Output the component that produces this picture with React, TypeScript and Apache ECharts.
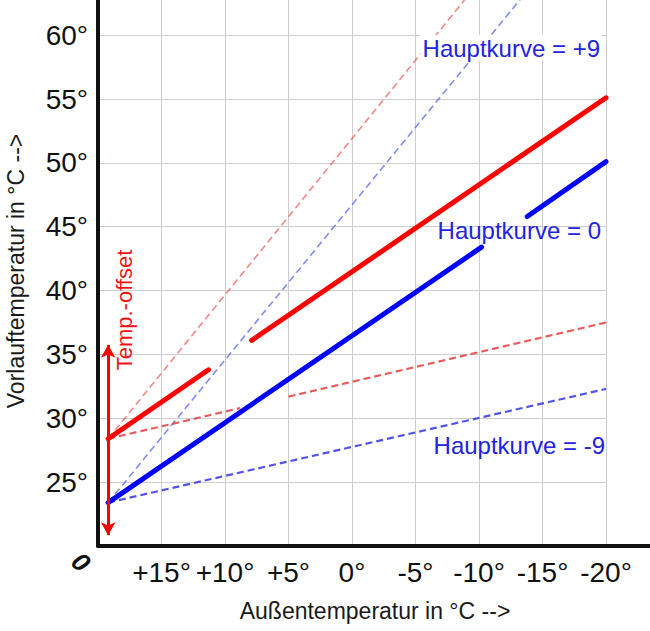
import React, { useEffect, useRef } from "react";
import * as echarts from "echarts";

// Axis ranges (x = Außentemperatur, inverted; y = Vorlauftemperatur)
const X_MIN = -20;
const X_MAX = 20;
const Y_MIN = 20;
const Y_MAX = 65;
const TICK_STEP = 5;

// Hauptkurve = 0 (blue, thick), broken where its label sits
const blueMainA = [[19.2, 23.4], [-10.2, 43.4]];
const blueMainB = [[-13.8, 45.8], [-20, 50.1]];
// Same curve shifted by the temp-offset (red, thick)
const redMainA = [[19.2, 28.4], [11.3, 33.8]];
const redMainB = [[7.9, 36.1], [-20, 55.1]];
// Hauptkurve = +9 (steep dashed)
const blueSteep = [[19.2, 23.4], [-20, 71.0]];
const redSteep = [[19.2, 28.4], [-20, 76.4]];
// Hauptkurve = -9 (flat dashed)
const blueFlat = [[19.2, 23.4], [-20, 32.3]];
const redFlatA = [[19.2, 28.4], [8.8, 30.8]];
const redFlatB = [[5.0, 31.7], [-20, 37.5]];
// Temp.-offset double arrow
const offsetArrow = [[19.2, 20.85], [19.2, 35.75]];

// Texts
const curveLabels = ["Hauptkurve = +9", "Hauptkurve = 0", "Hauptkurve = -9"];
const offsetLabel = "Temp.-offset";
const xTitle = "Außentemperatur in °C -->";
const yTitle = "Vorlauftemperatur in °C -->";
const originLabel = "0";

const FONT = "Liberation Sans, Arial, Helvetica, sans-serif";
const BLUE = "#0000ff";
const RED = "#ff0000";
const LABEL_BLUE = "#2323e0";

function lineSeries(data: number[][], color: string, width: number, dashed: boolean, z: number) {
  return {
    type: "line",
    data,
    symbol: "none",
    silent: true,
    z,
    lineStyle: {
      color,
      width,
      type: dashed ? [7, 4] : "solid",
      cap: dashed ? "butt" : "round",
    },
  };
}

export default function App() {
  const ref = useRef<HTMLDivElement>(null);

  useEffect(() => {
    const chart = echarts.init(ref.current!, null, { renderer: "svg" });
    const option: any = {
      animation: false,
      backgroundColor: "#fff",
      grid: {
        left: 98,
        right: 44,
        top: -28.65,
        bottom: 85,
        containLabel: false,
        outerBoundsMode: "none",
      },
      xAxis: {
        type: "value",
        min: X_MIN,
        max: X_MAX,
        interval: TICK_STEP,
        inverse: true,
        axisLine: { show: true, onZero: false, lineStyle: { color: "#111", width: 4 } },
        axisTick: { show: false },
        axisLabel: {
          fontSize: 28,
          fontFamily: FONT,
          color: "#111",
          margin: 12,
          formatter: (v: number) => (v === X_MAX ? "" : (v > 0 ? "+" : "") + v + "°"),
        },
        splitLine: { show: true, lineStyle: { color: "#cdcdcd", width: 1 } },
      },
      yAxis: {
        type: "value",
        min: Y_MIN,
        max: Y_MAX,
        interval: TICK_STEP,
        axisLine: { show: true, onZero: false, lineStyle: { color: "#111", width: 4 } },
        axisTick: { show: false },
        axisLabel: {
          fontSize: 28,
          fontFamily: FONT,
          color: "#111",
          margin: 10,
          formatter: (v: number) => (v === Y_MIN || v === Y_MAX ? "" : v + "°"),
        },
        splitLine: { show: true, lineStyle: { color: "#cdcdcd", width: 1 } },
      },
      series: [
        lineSeries(redSteep, "rgba(238,70,70,0.65)", 1.6, true, 2),
        lineSeries(blueSteep, "rgba(60,80,240,0.65)", 1.6, true, 2),
        lineSeries(redFlatA, "rgba(230,50,50,0.8)", 2.2, true, 2),
        lineSeries(redFlatB, "rgba(230,50,50,0.8)", 2.2, true, 2),
        lineSeries(blueFlat, "rgba(40,40,230,0.8)", 2.2, true, 2),
        lineSeries(blueMainA, BLUE, 5, false, 3),
        lineSeries(blueMainB, BLUE, 5, false, 3),
        lineSeries(redMainA, RED, 5, false, 3),
        lineSeries(redMainB, RED, 5, false, 3),
        {
          type: "line",
          data: [],
          silent: true,
          z: 4,
          markLine: {
            silent: true,
            animation: false,
            symbol: ["arrow", "arrow"],
            symbolSize: [11, 13],
            label: { show: false },
            lineStyle: { color: RED, width: 3, type: "solid" },
            emphasis: { disabled: true },
            data: [[{ coord: offsetArrow[0] }, { coord: offsetArrow[1] }]],
          },
        },
      ],
      graphic: [
        {
          type: "line",
          z: 10,
          shape: { x1: 604, y1: 546, x2: 650, y2: 546 },
          style: { stroke: "#111", lineWidth: 4 },
        },
        {
          type: "text",
          x: 602,
          y: 48,
          z: 5,
          style: {
            text: curveLabels[0],
            fill: LABEL_BLUE,
            font: `24px ${FONT}`,
            align: "right",
            verticalAlign: "middle",
            backgroundColor: "#fff",
            padding: [1, 2],
          },
        },
        {
          type: "text",
          x: 601,
          y: 230,
          z: 5,
          style: {
            text: curveLabels[1],
            fill: LABEL_BLUE,
            font: `24px ${FONT}`,
            align: "right",
            verticalAlign: "middle",
          },
        },
        {
          type: "text",
          x: 605,
          y: 445,
          z: 5,
          style: {
            text: curveLabels[2],
            fill: LABEL_BLUE,
            font: `24px ${FONT}`,
            align: "right",
            verticalAlign: "middle",
          },
        },
        {
          type: "text",
          x: 124,
          y: 310,
          rotation: Math.PI / 2,
          z: 5,
          style: {
            text: offsetLabel,
            fill: "#ee1414",
            font: `22px ${FONT}`,
            align: "center",
            verticalAlign: "middle",
          },
        },
        {
          type: "text",
          x: 375,
          y: 611,
          style: {
            text: xTitle,
            fill: "#1a1a1a",
            font: `23px ${FONT}`,
            align: "center",
            verticalAlign: "middle",
          },
        },
        {
          type: "text",
          x: 16,
          y: 271,
          rotation: Math.PI / 2,
          style: {
            text: yTitle,
            fill: "#1a1a1a",
            font: `23px ${FONT}`,
            align: "center",
            verticalAlign: "middle",
          },
        },
        {
          type: "text",
          x: 81,
          y: 562,
          rotation: -0.75,
          style: {
            text: originLabel,
            fill: "#111",
            font: `italic bold 26px ${FONT}`,
            align: "center",
            verticalAlign: "middle",
          },
        },
      ],
    };
    chart.setOption(option);
    return () => chart.dispose();
  }, []);

  return (
    <div
      ref={ref}
      style={{ position: "fixed", left: 0, top: 0, width: 650, height: 631, background: "#fff" }}
    />
  );
}
